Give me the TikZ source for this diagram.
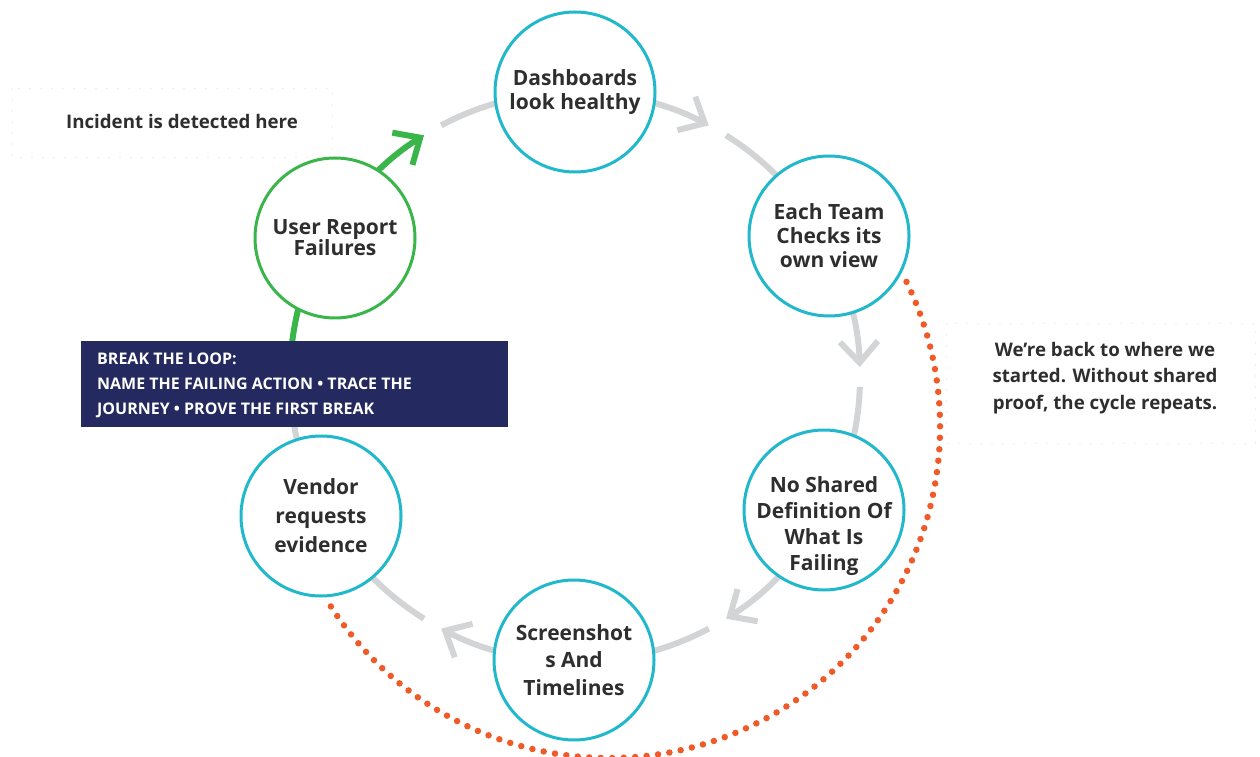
\documentclass[tikz,border=0pt]{standalone}
\usepackage{fontspec}
\setmainfont{Open Sans}
\usetikzlibrary{arrows.meta}
\definecolor{tealc}{HTML}{22B8CC}
\definecolor{greenc}{HTML}{3AB54A}
\definecolor{orangec}{HTML}{F05A28}
\definecolor{greyc}{HTML}{D3D4D6}
\definecolor{navyc}{HTML}{24295F}
\definecolor{textc}{HTML}{2E2E2E}
\tikzset{
  stepnode/.style={circle, draw=tealc, line width=3pt, fill=white, minimum size=160pt, inner sep=0pt,
    align=center, text=textc, font=\bfseries\fontsize{21}{24}\selectfont},
  steptext/.style={align=center, text=textc, inner sep=0pt},
  greyarc/.style={draw=greyc, line width=6pt},
  greenarc/.style={draw=greenc, line width=6pt},
  tipped/.style={-{Straight Barb[length=21pt,width=38pt]}},
  dotted orange/.style={draw=orangec, line width=6.5pt, line cap=round, dash pattern=on 0pt off 11.5pt},
  faintbox/.style={line width=0.6pt, dash pattern=on 2pt off 9pt},
}
\begin{document}
\begin{tikzpicture}[x=1pt,y=1pt]
\useasboundingbox (0,0) rectangle (1260,756);
\coordinate (C) at (575,379);
% faint guide boxes
\draw[faintbox, draw=black!7] (12,668) rectangle (332,599);
\draw[faintbox, draw=orangec!12] (946,433) rectangle (1255,313);
% orange dotted return arc
\coordinate (OC) at (609,329);
\draw[dotted orange] ([shift={(26:331)}]OC) arc[start angle=26, end angle=-149, radius=331];
% grey cycle arcs
\draw[greyarc, tipped] ([shift={(90:285)}]C) arc[start angle=90, end angle=62, radius=285];
\draw[greyarc] ([shift={(58:285)}]C) arc[start angle=58, end angle=30, radius=285];
\draw[greyarc, tipped] ([shift={(30:285)}]C) arc[start angle=30, end angle=2, radius=285];
\draw[greyarc] ([shift={(-2:285)}]C) arc[start angle=-2, end angle=-30, radius=285];
\draw[greyarc, tipped] ([shift={(-30:285)}]C) arc[start angle=-30, end angle=-58, radius=285];
\draw[greyarc] ([shift={(-62:285)}]C) arc[start angle=-62, end angle=-90, radius=285];
\draw[greyarc, tipped] ([shift={(-90:285)}]C) arc[start angle=-90, end angle=-118, radius=285];
\draw[greyarc] ([shift={(-122:285)}]C) arc[start angle=-122, end angle=-150, radius=285];
\draw[greyarc] ([shift={(210:285)}]C) arc[start angle=210, end angle=180, radius=285];
\draw[greenarc] ([shift={(180:285)}]C) arc[start angle=180, end angle=150, radius=285];
\draw[greenarc, tipped] ([shift={(150:285)}]C) arc[start angle=150, end angle=122, radius=285];
\draw[greyarc] ([shift={(118:285)}]C) arc[start angle=118, end angle=90, radius=285];
% nodes
\node[stepnode] (dash) at (575,664) {Dashboards\\look healthy};
\node[stepnode] (each) at (829,520) {Each Team\\Checks its\\own view};
\node[stepnode] (noshared) at (824,246) {};
\node[steptext, font=\bfseries\fontsize{21}{26.3}\selectfont] (nosharedtext) at (824,230) {No Shared\\Definition Of\\What Is\\Failing};
\node[stepnode, font=\bfseries\fontsize{21}{27.5}\selectfont] (screens) at (574,96) {Screenshot\\s And\\Timelines};
\node[stepnode, font=\bfseries\fontsize{21}{29}\selectfont] (vendor) at (321,240) {Vendor\\requests\\evidence};
\node[stepnode, draw=greenc, font=\bfseries\fontsize{21}{21}\selectfont] (user) at (335,518) {User Report\\Failures};
% break box
\node[fill=navyc, minimum width=427pt, minimum height=86pt, inner sep=0pt] (break) at (294.5,372) {};
\node[anchor=north west, text=white, align=left, inner sep=0pt,
  font=\bfseries\fontsize{16}{25}\selectfont] (breaktext) at (97,403) {BREAK THE LOOP:\\NAME THE FAILING ACTION • TRACE THE\\JOURNEY • PROVE THE FIRST BREAK};
% annotations
\node[text=textc, font=\bfseries\fontsize{18.7}{20}\selectfont] (incident) at (182,635) {Incident is detected here};
\node[text=textc, align=center, font=\bfseries\fontsize{18.7}{26.5}\selectfont] (back) at (1105,378) {We’re back to where we\\started. Without shared\\proof, the cycle repeats.};
\end{tikzpicture}
\end{document}
